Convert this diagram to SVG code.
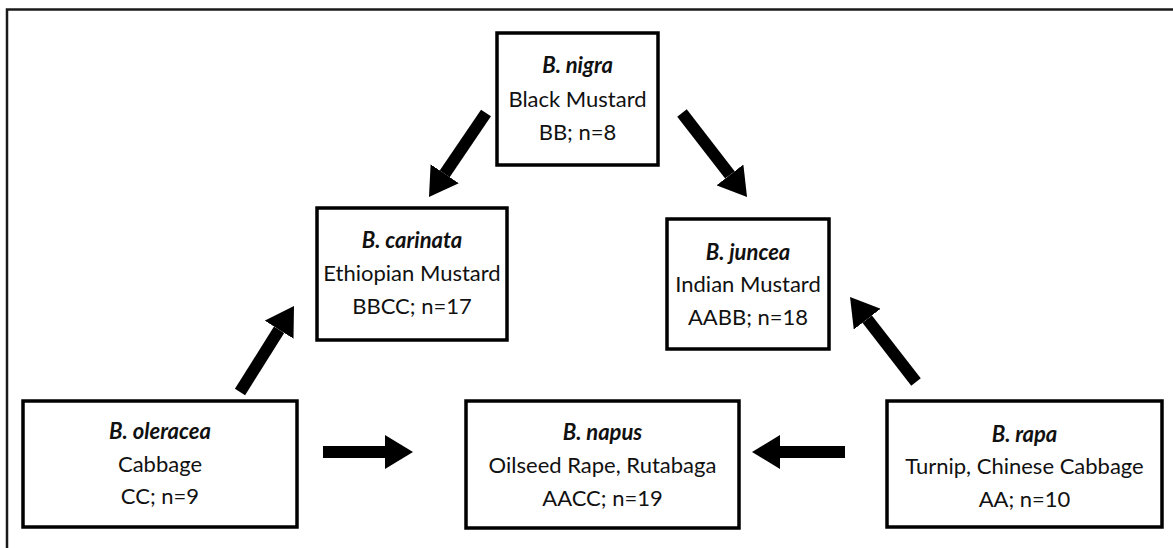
<svg xmlns="http://www.w3.org/2000/svg" width="1173" height="548" viewBox="0 0 1173 548">
<style>
.box{fill:#fff;stroke:#000;stroke-width:3.5}
.t{font-family:Lato,"Liberation Sans",sans-serif;font-size:22px;fill:#111;text-anchor:middle}
.h{font-weight:bold;font-style:italic}
.arr{stroke:#000;stroke-width:12;fill:none;marker-end:url(#ah)}
</style>
<defs>
<marker id="ah" markerUnits="userSpaceOnUse" markerWidth="28" markerHeight="34" viewBox="0 0 28 34" refX="0" refY="17" orient="auto">
<path d="M0,0 L28,17 L0,34 z" fill="#000"/>
</marker>
</defs>
<rect x="7" y="9.5" width="1200" height="600" fill="#fff" stroke="#1a1a1a" stroke-width="2.5"/>
<g id="connectors">
<line class="arr" x1="486" y1="113" x2="444.7" y2="173.8"/>
<line class="arr" x1="682" y1="113" x2="729.9" y2="174.9"/>
<line class="arr" x1="240" y1="392" x2="279.1" y2="329.7"/>
<line class="arr" x1="916" y1="382" x2="867.2" y2="319.1"/>
<line class="arr" x1="323" y1="452" x2="385" y2="452"/>
<line class="arr" x1="845" y1="452" x2="780" y2="452"/>
</g>
<g id="nigra">
<rect class="box" x="497" y="33" width="161" height="132"/>
<text class="t h" x="577.5" y="73">B. nigra</text>
<text class="t" x="577.5" y="107">Black Mustard</text>
<text class="t" x="577.5" y="140">BB; n=8</text>
</g>
<g id="carinata">
<rect class="box" x="317" y="208" width="190" height="132"/>
<text class="t h" x="412" y="248">B. carinata</text>
<text class="t" x="412" y="281">Ethiopian Mustard</text>
<text class="t" x="412" y="314">BBCC; n=17</text>
</g>
<g id="juncea">
<rect class="box" x="667" y="219" width="162" height="130"/>
<text class="t h" x="748" y="260">B. juncea</text>
<text class="t" x="748" y="292">Indian Mustard</text>
<text class="t" x="748" y="325">AABB; n=18</text>
</g>
<g id="oleracea">
<rect class="box" x="23" y="401" width="274" height="126"/>
<text class="t h" x="160" y="439">B. oleracea</text>
<text class="t" x="160" y="472">Cabbage</text>
<text class="t" x="160" y="504">CC; n=9</text>
</g>
<g id="napus">
<rect class="box" x="466" y="401" width="273" height="127"/>
<text class="t h" x="602.5" y="440">B. napus</text>
<text class="t" x="602.5" y="473">Oilseed Rape, Rutabaga</text>
<text class="t" x="602.5" y="506">AACC; n=19</text>
</g>
<g id="rapa">
<rect class="box" x="887" y="401" width="275" height="126"/>
<text class="t h" x="1024.5" y="442">B. rapa</text>
<text class="t" x="1024.5" y="474">Turnip, Chinese Cabbage</text>
<text class="t" x="1024.5" y="507">AA; n=10</text>
</g>
</svg>
